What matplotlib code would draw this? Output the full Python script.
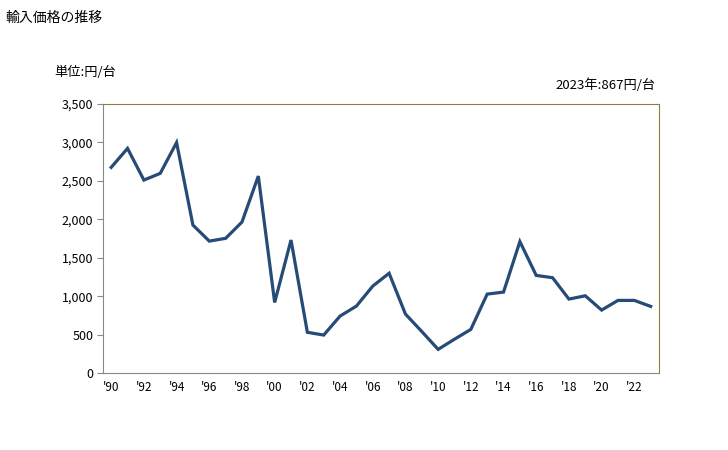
import numpy as np
import matplotlib.pyplot as plt

plt.rcParams['font.family'] = ['Noto Sans CJK JP', 'DejaVu Sans']

years = list(range(1990, 2024))
prices = [2675, 2922, 2510, 2597, 2998, 1925, 1716, 1752, 1964, 2562,
          918, 1730, 530, 494, 741, 871, 1131, 1298, 767, 540,
          308, 440, 568, 1027, 1053, 1710, 1270, 1240, 962, 1005,
          819, 945, 945, 867]
tick_labels = ["'%02d" % (y % 100) for y in years[::2]]

fig = plt.figure(figsize=(7.28, 4.5), dpi=100)
ax = fig.add_axes([0.1415, 0.171, 0.7635, 0.598])

x = np.arange(len(years))
ax.plot(x, prices, color='#264b77', linewidth=2.3, solid_joinstyle='miter')

ax.set_xlim(-0.5, len(years) - 0.5)
ax.set_ylim(0, 3500)
ax.set_yticks(np.arange(0, 3501, 500))
ax.set_yticklabels([f'{v:,}' for v in range(0, 3501, 500)], fontsize=9)
ax.set_xticks(x[::2])
ax.set_xticklabels(tick_labels, fontsize=8.5)
ax.tick_params(axis='x', length=0, pad=6)
ax.tick_params(axis='y', length=4, color='#888888', pad=3)

for side in ['left', 'bottom']:
    ax.spines[side].set_color('#888888')
for side in ['top', 'right']:
    ax.spines[side].set_color('#8c7e45')

fig.text(0.007, 0.975, '輸入価格の推移', fontsize=10, va='top', ha='left')
fig.text(0.075, 0.84, '単位:円/台', fontsize=9.5, va='center', ha='left')
fig.text(0.9, 0.81, '2023年:867円/台', fontsize=9.5, va='center', ha='right')

fig.savefig('out.png', dpi=100)
